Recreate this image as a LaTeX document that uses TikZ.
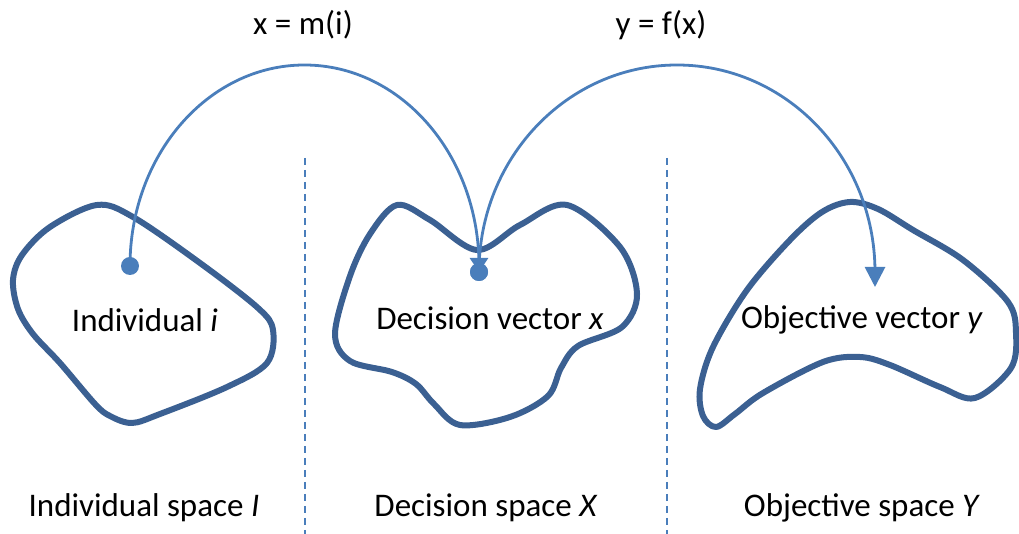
\documentclass[tikz,border=0pt]{standalone}
\usepackage{fontspec}
\setmainfont{Carlito}
\usepackage{tikz}
\usetikzlibrary{arrows.meta}
\definecolor{blobblue}{HTML}{3B6092}
\definecolor{arcblue}{HTML}{4A7EBB}
\tikzset{
  blob/.style={line width=6pt,blobblue,line join=round},
  maparc/.style={line width=2.8pt,arcblue},
  dot/.style={circle,fill=arcblue,inner sep=0pt,minimum size=18pt},
  lbl/.style={inner sep=0pt,font=\fontsize{33}{39}\selectfont},
  sep/.style={arcblue,line width=1.2pt,dash pattern=on 7pt off 5pt}
}

\begin{document}
\begin{tikzpicture}[x=1pt,y=1pt]
\useasboundingbox (0,0) rectangle (1019,534);

%% the three spaces
\draw[blob] plot[smooth cycle,tension=0.55] coordinates {(13,254) (22,279) (50,307) (97,329) (133,317) (200,271) (258,226) (273,204) (267,171) (227,147) (160,120) (132,111) (110,118) (95,130) (60,171) (33,200) (18,225)};
\draw[blob] plot[smooth cycle,tension=0.55] coordinates {(335,200) (350,173) (392,162) (416,150) (434,130) (460,109) (510,117) (548,138) (561,166) (578,188) (622,207) (637,240) (620,287) (567,329) (520,309) (477,284) (430,314) (397,329) (370,300) (350,258)};
\draw[blob] plot[smooth cycle,tension=0.55] coordinates {(850,332) (878,325) (913,304) (963,274) (1008,232) (1016,201) (1011,166) (975,136) (940,147) (890,169) (860,177) (823,172) (763,141) (735,120) (716,107) (703,118) (700,145) (713,187) (747,244) (790,294) (822,322)};

\draw[sep] (305,376) -- (305,0);
\draw[sep] (667,376) -- (667,0);

\node[lbl] (ind)  at (145,214) {Individual \textit{i}};
\node[lbl] (dec)  at (490,216) {Decision vector \textit{x}};
\node[lbl] (obj)  at (862,214) {Objective vector \textit{y}};
\node[lbl] (inds) at (144,26) {Individual space \textit{I}};
\node[lbl] (decs) at (486,26) {Decision space \textit{X}};
\node[lbl] (objs) at (862,26) {Objective space \textit{Y}};

\node[dot] (i) at (130,268) {};
\node[dot] (x) at (479,262) {};
\coordinate (y) at (875,247);

%% the two mappings
\draw[maparc,-{Triangle[length=14pt,width=18pt]}] (i.center) arc[start angle=180,end angle=0,x radius=174.5,y radius=201] -- (x.center);
\node[dot] at (x) {};
\draw[maparc,-{Triangle[length=20pt,width=20pt]}] (x.center) arc[start angle=180,end angle=0,x radius=198,y radius=207] -- (y);

\node[lbl] (m) at (303,509) {x = m(i)};
\node[lbl] (f) at (661,509) {y = f(x)};
\end{tikzpicture}
\end{document}
